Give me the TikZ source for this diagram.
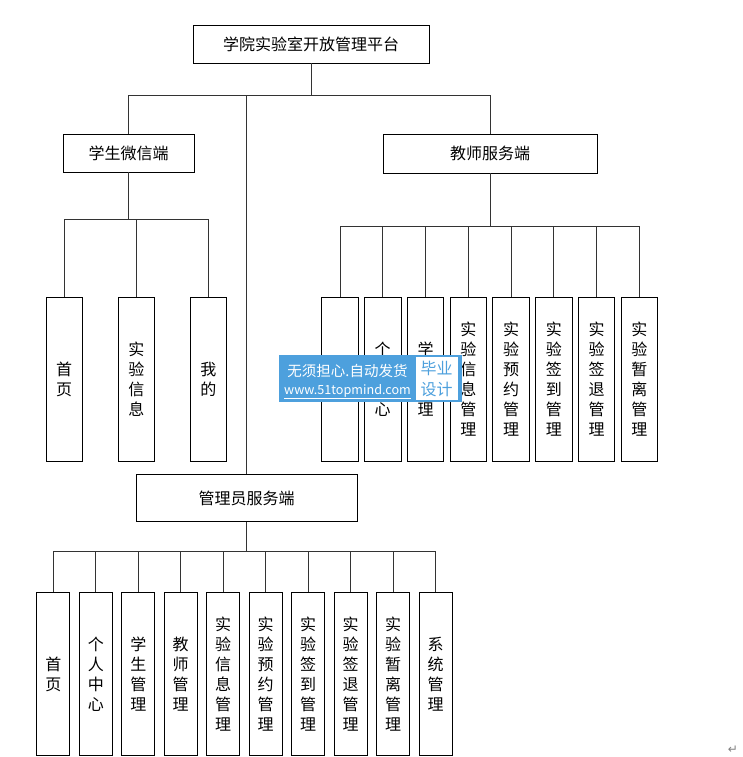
\documentclass[tikz,border=0pt]{standalone}
\usepackage{fontspec}
\newfontfamily\cjk{Noto Sans CJK SC}
\newfontfamily\dvs{DejaVu Sans}
\definecolor{wmblue}{RGB}{77,160,221}
\begin{document}
\begin{tikzpicture}[x=1pt,y=-1pt,
  box/.style={draw=black, line width=0.9pt, fill=white, inner sep=0pt,
    font=\cjk\fontsize{16}{20}\selectfont, align=center},
  hbox/.style={box, minimum width=#1},
  leafA/.style={box, minimum width=36.5pt, minimum height=164pt},
  leafB/.style={box, minimum width=33pt, minimum height=163.5pt},
  conn/.style={draw=black!80, line width=0.9pt}]
\useasboundingbox (0,0) rectangle (743,757);
% top level
\node[hbox=236pt, minimum height=38pt] (top) at (311,44) {学院实验室开放管理平台};
\node[hbox=131pt, minimum height=38pt] (stu) at (128.5,153) {学生微信端};
\node[hbox=214pt, minimum height=39pt] (tea) at (490,153.5) {教师服务端};
\node[hbox=221pt, minimum height=47pt] (adm) at (246.7,498) {管理员服务端};
\coordinate (tbus) at (311,95);
\draw[conn] (top.south) -- (tbus) -| (stu.north);
\draw[conn] (tbus) -| (tea.north);
\draw[conn] (tbus) -| (adm.north);
% student children
\node[leafA] (s1) at (64.2,379.5) {首\\页};
\node[leafA] (s2) at (136.3,379.5) {实\\验\\信\\息};
\node[leafA] (s3) at (208.3,379.5) {我\\的};
\coordinate (sbus) at (128.5,219);
\foreach \c in {s1,s2,s3} \draw[conn] (stu.south) -- (sbus) -| (\c.north);
% teacher children
\node[leafA] (t1) at (340,379.5) {首\\页};
\node[leafA] (t2) at (382.7,379.5) {个\\人\\中\\心};
\node[leafA] (t3) at (425.5,379.5) {学\\生\\管\\理};
\node[leafA] (t4) at (468.3,379.5) {实\\验\\信\\息\\管\\理};
\node[leafA] (t5) at (511,379.5) {实\\验\\预\\约\\管\\理};
\node[leafA] (t6) at (553.8,379.5) {实\\验\\签\\到\\管\\理};
\node[leafA] (t7) at (596.5,379.5) {实\\验\\签\\退\\管\\理};
\node[leafA] (t8) at (639.3,379.5) {实\\验\\暂\\离\\管\\理};
\coordinate (tbus2) at (490,226);
\foreach \c in {t1,t2,t3,t4,t5,t6,t7,t8} \draw[conn] (tea.south) -- (tbus2) -| (\c.north);
% admin children
\node[leafB] (a1) at (53.3,674) {首\\页};
\node[leafB] (a2) at (95.8,674) {个\\人\\中\\心};
\node[leafB] (a3) at (138.3,674) {学\\生\\管\\理};
\node[leafB] (a4) at (180.7,674) {教\\师\\管\\理};
\node[leafB] (a5) at (223.2,674) {实\\验\\信\\息\\管\\理};
\node[leafB] (a6) at (265.7,674) {实\\验\\预\\约\\管\\理};
\node[leafB] (a7) at (308.2,674) {实\\验\\签\\到\\管\\理};
\node[leafB] (a8) at (350.7,674) {实\\验\\签\\退\\管\\理};
\node[leafB] (a9) at (393.2,674) {实\\验\\暂\\离\\管\\理};
\node[leafB] (a10) at (435.7,674) {系\\统\\管\\理};
\coordinate (abus) at (246.7,551);
\foreach \c in {a1,a2,a3,a4,a5,a6,a7,a8,a9,a10} \draw[conn] (adm.south) -- (abus) -| (\c.north);
% watermark overlay
\node[fill=wmblue, minimum width=183pt, minimum height=47pt, inner sep=0pt] (wm) at (370.5,378.5) {};
\node[fill=white, minimum width=42pt, minimum height=43pt, inner sep=0pt] (wmw) at (436.5,378.5) {};
\node[text=white, font=\cjk\fontsize{14.5}{16}\selectfont, inner sep=0pt] (wm1) at (347.5,370.5) {无须担心.自动发货};
\node[text=white, font=\cjk\fontsize{12.6}{15}\selectfont, inner sep=0pt] (wm2) at (347.5,391.5) {\underline{www.51topmind.com}};
\node[text=wmblue, font=\cjk\fontsize{16}{21}\selectfont, align=center, inner sep=0pt] (wm3) at (436.5,378.5) {毕业\\设计};
% paragraph mark
\node[text=black!50, font=\dvs\fontsize{12}{12}\selectfont, inner sep=0pt] (pm) at (733,750) {↵};
\end{tikzpicture}
\end{document}
